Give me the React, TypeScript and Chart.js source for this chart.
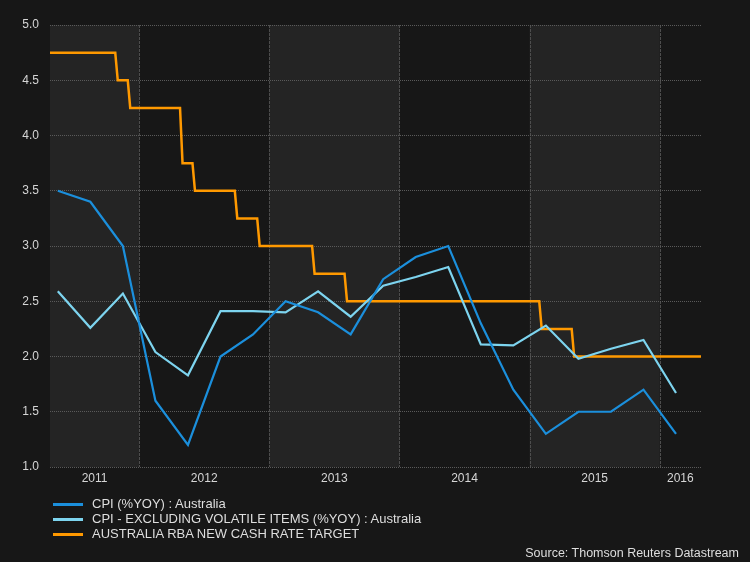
import React, { useEffect, useRef } from "react";
import { Chart, registerables } from "chart.js";

Chart.register(...registerables);

// ---- data ----
const quarters = [
  "2011Q2", "2011Q3", "2011Q4", "2012Q1", "2012Q2", "2012Q3", "2012Q4",
  "2013Q1", "2013Q2", "2013Q3", "2013Q4", "2014Q1", "2014Q2", "2014Q3",
  "2014Q4", "2015Q1", "2015Q2", "2015Q3", "2015Q4", "2016Q1",
];
const cpi = [3.5, 3.4, 3.0, 1.6, 1.2, 2.0, 2.2, 2.5, 2.4, 2.2, 2.7, 2.9, 3.0, 2.3, 1.7, 1.3, 1.5, 1.5, 1.7, 1.3];
const cpiExVolatile = [2.59, 2.26, 2.57, 2.04, 1.83, 2.41, 2.41, 2.4, 2.59, 2.36, 2.64, 2.72, 2.81, 2.11, 2.1, 2.28, 1.98, 2.07, 2.15, 1.67];

const cashRateDates = [
  "2011-04-26", "2011-11-02", "2011-12-07", "2012-05-02", "2012-06-06", "2012-10-03",
  "2012-12-05", "2013-05-08", "2013-08-07", "2015-02-04", "2015-05-06",
];
const cashRates = [4.75, 4.5, 4.25, 3.75, 3.5, 3.25, 3.0, 2.75, 2.5, 2.25, 2.0];

const axisStart = "2011-04-26";
const axisEnd = "2016-04-26";
const yearLabels = [2011, 2012, 2013, 2014, 2015, 2016];
const shadedYears = [2011, 2013, 2015];

const seriesLabels = [
  "CPI (%YOY) : Australia",
  "CPI - EXCLUDING VOLATILE ITEMS (%YOY) : Australia",
  "AUSTRALIA RBA NEW CASH RATE TARGET",
];
const seriesColors = ["#1b8fdc", "#7dd4ef", "#ff9900"];
const sourceText = "Source: Thomson Reuters Datastream";

// ---- helpers ----
function toYear(iso: string): number {
  const d = new Date(iso + "T00:00:00Z");
  const y = d.getUTCFullYear();
  const s = Date.UTC(y, 0, 1);
  const e = Date.UTC(y + 1, 0, 1);
  return y + (d.getTime() - s) / (e - s);
}
function quarterMid(q: string): number {
  const y = parseInt(q.slice(0, 4), 10);
  const n = parseInt(q.slice(5), 10);
  return y + (n - 1) * 0.25 + 0.125;
}

const xMin = toYear(axisStart);
const xMax = toYear(axisEnd);

// weekly series: the last week at the old rate, then the new rate
function buildCashPoints() {
  const pts: { x: number; y: number }[] = [{ x: xMin, y: cashRates[0] }];
  for (let i = 1; i < cashRateDates.length; i++) {
    const t = toYear(cashRateDates[i]);
    pts.push({ x: t - 7 / 365, y: cashRates[i - 1] });
    pts.push({ x: t, y: cashRates[i] });
  }
  pts.push({ x: xMax, y: cashRates[cashRates.length - 1] });
  return pts;
}

const FONT = "'Liberation Sans', Arial, sans-serif";

const bandsPlugin = {
  id: "yearBands",
  beforeDraw(chart: any) {
    const { ctx, chartArea, scales } = chart;
    const { left, right, top, bottom } = chartArea;
    const x = scales.x;
    ctx.save();
    ctx.fillStyle = "#171717";
    ctx.fillRect(0, 0, chart.width, chart.height);
    ctx.fillStyle = "#242424";
    shadedYears.forEach((yr) => {
      const a = Math.max(left, x.getPixelForValue(yr));
      const b = Math.min(right, x.getPixelForValue(yr + 1));
      if (b > a) ctx.fillRect(a, top, b - a, bottom - top);
    });
    ctx.strokeStyle = "#4d4d4d";
    ctx.lineWidth = 1;
    ctx.setLineDash([3, 1]);
    yearLabels.forEach((yr) => {
      const p = Math.round(x.getPixelForValue(yr)) + 0.5;
      if (p > left + 1 && p < right - 1) {
        ctx.beginPath();
        ctx.moveTo(p, top);
        ctx.lineTo(p, bottom);
        ctx.stroke();
      }
    });
    ctx.restore();
  },
};

export default function App() {
  const ref = useRef<HTMLCanvasElement | null>(null);

  useEffect(() => {
    if (!ref.current) return;
    const chart = new Chart(ref.current, {
      type: "line",
      data: {
        datasets: [
          {
            label: seriesLabels[0],
            data: quarters.map((q, i) => ({ x: quarterMid(q), y: cpi[i] })),
            borderColor: seriesColors[0],
            borderWidth: 2.2,
            pointRadius: 0,
            tension: 0,
          },
          {
            label: seriesLabels[1],
            data: quarters.map((q, i) => ({ x: quarterMid(q), y: cpiExVolatile[i] })),
            borderColor: seriesColors[1],
            borderWidth: 2.2,
            pointRadius: 0,
            tension: 0,
          },
          {
            label: seriesLabels[2],
            data: buildCashPoints(),
            borderColor: seriesColors[2],
            borderWidth: 2.5,
            pointRadius: 0,
            tension: 0,
          },
        ],
      },
      options: {
        animation: false,
        responsive: false,
        maintainAspectRatio: false,
        layout: { padding: { left: 0, top: 25, right: 49, bottom: 0 } },
        plugins: {
          legend: { display: false },
          tooltip: { enabled: false },
        },
        scales: {
          x: {
            type: "linear",
            min: xMin,
            max: xMax,
            grid: { display: false, drawTicks: false },
            border: { display: false },
            afterBuildTicks: (scale: any) => {
              scale.ticks = yearLabels.map((yr) => ({
                value: (Math.max(yr, xMin) + Math.min(yr + 1, xMax)) / 2,
              }));
            },
            afterFit: (scale: any) => {
              scale.height = 95;
            },
            ticks: {
              autoSkip: false,
              maxRotation: 0,
              padding: 4,
              color: "#d6d6d6",
              font: { family: FONT, size: 12 },
              callback: (v: any) => String(Math.floor(Number(v))),
            },
          },
          y: {
            type: "linear",
            min: 1,
            max: 5,
            grid: { color: "#5a5a5a", lineWidth: 1, drawTicks: false },
            border: { display: false, dash: [1, 1] },
            afterFit: (scale: any) => {
              scale.width = 50;
            },
            ticks: {
              stepSize: 0.5,
              padding: 11,
              color: "#d6d6d6",
              font: { family: FONT, size: 12 },
              callback: (v: any) => Number(v).toFixed(1),
            },
          },
        },
      },
      plugins: [bandsPlugin],
    } as any);
    return () => chart.destroy();
  }, []);

  return (
    <div
      style={{
        position: "absolute",
        left: 0,
        top: 0,
        width: 750,
        height: 562,
        background: "#171717",
        fontFamily: FONT,
      }}
    >
      <canvas ref={ref} width={750} height={562} style={{ display: "block" }} />
      {seriesLabels.map((lab, i) => (
        <div
          key={lab}
          style={{
            position: "absolute",
            left: 53,
            top: 496 + i * 15,
            height: 16,
            display: "flex",
            alignItems: "center",
            whiteSpace: "nowrap",
          }}
        >
          <div style={{ width: 30, height: 3, background: seriesColors[i], marginRight: 9 }} />
          <span style={{ color: "#dedede", fontSize: 13, lineHeight: "16px" }}>{lab}</span>
        </div>
      ))}
      <div
        style={{
          position: "absolute",
          right: 11,
          top: 545,
          color: "#dedede",
          fontSize: 12.5,
          lineHeight: "16px",
          whiteSpace: "nowrap",
        }}
      >
        {sourceText}
      </div>
    </div>
  );
}
